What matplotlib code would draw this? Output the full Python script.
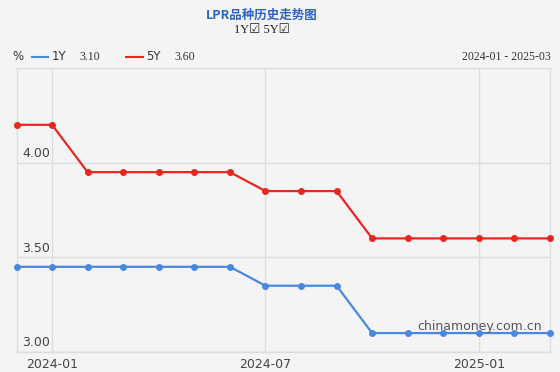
import matplotlib.pyplot as plt

months = ['2023-12', '2024-01', '2024-02', '2024-03', '2024-04', '2024-05',
          '2024-06', '2024-07', '2024-08', '2024-09', '2024-10', '2024-11',
          '2024-12', '2025-01', '2025-02', '2025-03']
lpr_1y = [3.45, 3.45, 3.45, 3.45, 3.45, 3.45, 3.45, 3.35, 3.35, 3.35,
          3.10, 3.10, 3.10, 3.10, 3.10, 3.10]
lpr_5y = [4.20, 4.20, 3.95, 3.95, 3.95, 3.95, 3.95, 3.85, 3.85, 3.85,
          3.60, 3.60, 3.60, 3.60, 3.60, 3.60]
tick_months = ['2024-01', '2024-07', '2025-01']
y_ticks = [3.00, 3.50, 4.00]

bg = '#f4f4f4'
blue = '#4a88e0'
red = '#e8261f'
grid_c = '#dcdde3'
txt_c = '#444444'
cjk = ['Noto Sans CJK SC', 'DejaVu Sans']
serif = ['Liberation Serif', 'DejaVu Sans']

fig = plt.figure(figsize=(5.6, 3.72), dpi=100, facecolor=bg)
ax = fig.add_axes([16.5 / 560, 1 - 352 / 372, (550 - 16.5) / 560, (352 - 68) / 372])
ax.set_facecolor(bg)

x = list(range(len(months)))
ax.plot(x, lpr_5y, color=red, lw=1.6, marker='o', ms=4, zorder=3, clip_on=False)
ax.plot(x, lpr_1y, color=blue, lw=1.6, marker='o', ms=4, zorder=3, clip_on=False)

ax.set_xlim(0, len(months) - 1)
ax.set_ylim(3.0, 4.5)

xt = [months.index(m) for m in tick_months]
ax.set_xticks(xt)
ax.set_xticklabels(tick_months, fontsize=9, color=txt_c, family='DejaVu Sans')
ax.tick_params(axis='x', length=0, pad=4)
ax.set_yticks(y_ticks)
ax.set_yticklabels([])
ax.tick_params(axis='y', length=0)
ax.grid(True, color=grid_c, lw=1)
for s in ax.spines.values():
    s.set_color(grid_c)
    s.set_linewidth(1)

for v in y_ticks:
    ax.annotate(f'{v:.2f}', xy=(0, v), xytext=(4, 2), textcoords='offset points',
                fontsize=9, color=txt_c, ha='left', va='bottom')

ax.text(0.985, 0.09, 'chinamoney.com.cn', transform=ax.transAxes, fontsize=9,
        color='#555555', ha='right', va='center')

# header
fig.text(262 / 560, 1 - 15 / 372, 'LPR品种历史走势图', family=cjk, fontsize=9,
         fontweight='bold', color='#2e63c0', ha='center', va='center')
fig.text(262 / 560, 1 - 29.5 / 372, '1Y\u2611 5Y\u2611', family=serif, fontsize=9,
         color='#222222', ha='center', va='center')

yl = 1 - 57 / 372
fig.text(12 / 560, yl, '%', fontsize=8.5, color='#333333', va='center')
fig.add_artist(plt.Line2D([32 / 560, 48 / 560], [yl, yl], color=blue, lw=1.5))
fig.text(52 / 560, yl, '1Y', fontsize=8.5, color='#333333', va='center')
fig.text(79 / 560, yl, '3.10', family=serif, fontsize=8.5, color='#333333', va='center')
fig.add_artist(plt.Line2D([126 / 560, 143 / 560], [yl, yl], color=red, lw=1.5))
fig.text(146 / 560, yl, '5Y', fontsize=8.5, color='#333333', va='center')
fig.text(174 / 560, yl, '3.60', family=serif, fontsize=8.5, color='#333333', va='center')
fig.text(551 / 560, yl, '2024-01 - 2025-03', family=serif, fontsize=8.5,
         color='#333333', ha='right', va='center')

fig.savefig('out.png', dpi=100, facecolor=bg)
